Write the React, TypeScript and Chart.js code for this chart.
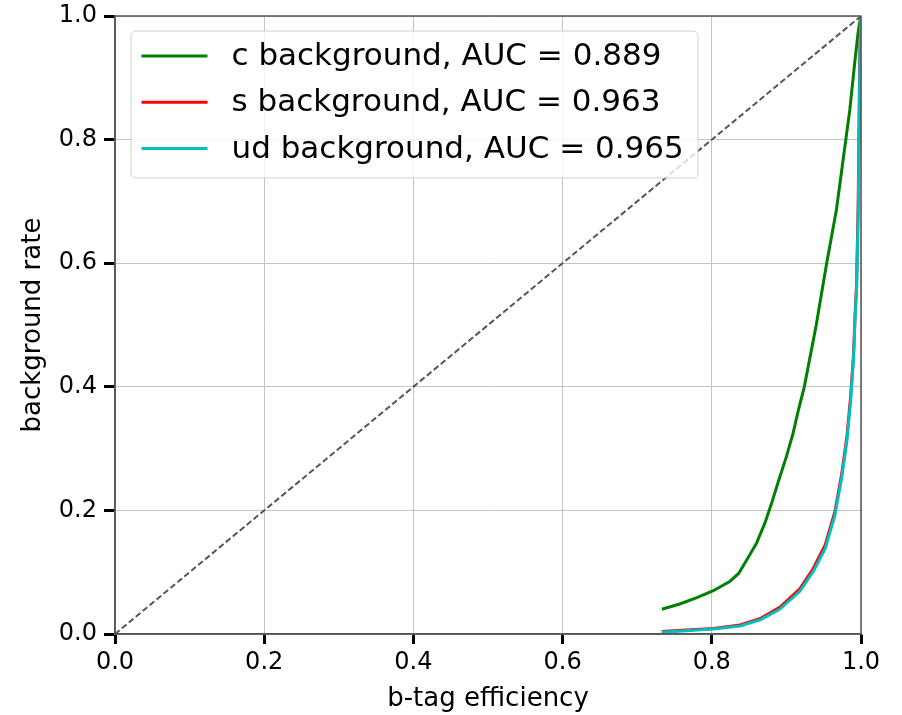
import { useEffect, useRef } from 'react';
import { Chart, registerables } from 'chart.js';

Chart.register(...registerables);

// ---- data ----
const axisTicks = [0, 0.2, 0.4, 0.6, 0.8, 1.0];

const cEff = [0.733, 0.757, 0.780, 0.802, 0.824, 0.836, 0.847, 0.860, 0.871, 0.880, 0.889, 0.900, 0.909, 0.916, 0.924, 0.932, 0.940, 0.947, 0.954, 0.967, 0.979, 0.985, 0.992, 0.996, 0.999, 1.0];
const cRate = [0.040, 0.0485, 0.059, 0.070, 0.085, 0.098, 0.120, 0.147, 0.179, 0.211, 0.246, 0.287, 0.325, 0.362, 0.400, 0.450, 0.500, 0.550, 0.600, 0.686, 0.794, 0.848, 0.929, 0.972, 0.995, 1.0];

const sEff = [0.733, 0.760, 0.802, 0.838, 0.865, 0.891, 0.918, 0.936, 0.952, 0.965, 0.974, 0.981, 0.986, 0.990, 0.992, 0.9940, 0.9962, 0.9985, 1.0];
const sRate = [0.004, 0.006, 0.009, 0.0146, 0.025, 0.043, 0.073, 0.106, 0.144, 0.198, 0.258, 0.318, 0.383, 0.452, 0.515, 0.565, 0.695, 0.950, 1.0];

const udEff = [0.733, 0.760, 0.802, 0.838, 0.865, 0.891, 0.918, 0.936, 0.952, 0.965, 0.974, 0.981, 0.986, 0.990, 0.992, 0.9942, 0.9964, 0.9987, 1.0];
const udRate = [0.003, 0.005, 0.008, 0.013, 0.023, 0.040, 0.069, 0.101, 0.138, 0.192, 0.252, 0.311, 0.376, 0.446, 0.510, 0.560, 0.690, 0.950, 1.0];

const diagEff = [0, 1];
const diagRate = [0, 1];

const seriesLabels = [
  'c background, AUC = 0.889',
  's background, AUC = 0.963',
  'ud background, AUC = 0.965',
];
const seriesColors = ['#008000', '#ff0000', '#00bfbf'];

const xTitle = 'b-tag efficiency';
const yTitle = 'background rate';

const toPoints = (xs: number[], ys: number[]) => xs.map((x, i) => ({ x, y: ys[i] }));

export default function App() {
  const ref = useRef<HTMLCanvasElement>(null);

  useEffect(() => {
    document.body.style.margin = '0';
    const FONT = "'DejaVu Sans', sans-serif";

    const framePlugin = {
      id: 'frame',
      afterDatasetsDraw(chart: any) {
        const { ctx, chartArea: a } = chart;
        ctx.save();
        ctx.strokeStyle = '#555555';
        ctx.lineWidth = 1.5;
        ctx.strokeRect(a.left, a.top, a.right - a.left, a.bottom - a.top);
        ctx.restore();
      },
    };

    const legendPlugin = {
      id: 'boxLegend',
      afterDraw(chart: any) {
        const { ctx, chartArea: a } = chart;
        const left = a.left + 16;
        const top = a.top + 15;
        const w = 567;
        const h = 147;
        ctx.save();
        ctx.beginPath();
        if (ctx.roundRect) ctx.roundRect(left, top, w, h, 5);
        else ctx.rect(left, top, w, h);
        ctx.fillStyle = 'rgba(255,255,255,0.8)';
        ctx.fill();
        ctx.strokeStyle = 'rgba(204,204,204,0.9)';
        ctx.lineWidth = 1;
        ctx.stroke();
        ctx.font = `31px ${FONT}`;
        ctx.textBaseline = 'middle';
        ctx.textAlign = 'left';
        seriesLabels.forEach((label, i) => {
          const cy = top + 25 + i * 46.3;
          ctx.strokeStyle = seriesColors[i];
          ctx.lineWidth = 3;
          ctx.beginPath();
          ctx.moveTo(left + 10.5, cy);
          ctx.lineTo(left + 76.5, cy);
          ctx.stroke();
          ctx.fillStyle = '#000';
          ctx.fillText(label, left + 100.5, cy + 1);
        });
        ctx.restore();
      },
    };

    const tickFmt = (v: any) => Number(v).toFixed(1);

    const chart = new Chart(ref.current!, {
      type: 'scatter',
      data: {
        datasets: [
          {
            label: 'diag',
            data: toPoints(diagEff, diagRate),
            showLine: true,
            borderColor: '#555555',
            borderWidth: 2,
            borderDash: [6, 3],
            pointRadius: 0,
            order: 0,
          },
          {
            label: seriesLabels[0],
            data: toPoints(cEff, cRate),
            showLine: true,
            borderColor: seriesColors[0],
            borderWidth: 3,
            pointRadius: 0,
            order: 3,
          },
          {
            label: seriesLabels[1],
            data: toPoints(sEff, sRate),
            showLine: true,
            borderColor: seriesColors[1],
            borderWidth: 3,
            pointRadius: 0,
            order: 2,
          },
          {
            label: seriesLabels[2],
            data: toPoints(udEff, udRate),
            showLine: true,
            borderColor: seriesColors[2],
            borderWidth: 3,
            pointRadius: 0,
            order: 1,
          },
        ],
      },
      options: {
        responsive: false,
        animation: false,
        events: [],
        layout: { padding: { top: 16, right: 41, left: 0, bottom: 0 } },
        plugins: {
          legend: { display: false },
          tooltip: { enabled: false },
        },
        scales: {
          x: {
            type: 'linear',
            min: 0,
            max: 1,
            afterBuildTicks: (s: any) => { s.ticks = axisTicks.map((v) => ({ value: v })); },
            afterFit: (s: any) => { s.height = 81; s.paddingLeft = 0; s.paddingRight = 0; },
            ticks: {
              callback: tickFmt,
              color: '#000',
              font: { family: FONT, size: 24 },
              padding: 4,
              maxRotation: 0,
            },
            grid: {
              color: '#c4c4c4',
              lineWidth: 1,
              tickColor: '#000',
              tickWidth: 3,
              tickLength: 10,
            },
            border: { display: true, color: '#555555', width: 1.5 },
            title: {
              display: true,
              text: xTitle,
              color: '#000',
              font: { family: FONT, size: 26 },
              padding: { top: 0, bottom: 0 },
            },
          },
          y: {
            type: 'linear',
            min: 0,
            max: 1,
            afterBuildTicks: (s: any) => { s.ticks = axisTicks.map((v) => ({ value: v })); },
            afterFit: (s: any) => { s.width = 115; s.paddingTop = 0; s.paddingBottom = 0; },
            ticks: {
              callback: tickFmt,
              color: '#000',
              font: { family: FONT, size: 24 },
              padding: 7,
            },
            grid: {
              color: '#c4c4c4',
              lineWidth: 1,
              tickColor: '#000',
              tickWidth: 3,
              tickLength: 11,
            },
            border: { display: true, color: '#555555', width: 1.5 },
            title: {
              display: true,
              text: yTitle,
              color: '#000',
              font: { family: FONT, size: 26 },
              padding: { top: 18, bottom: 0 },
            },
          },
        },
      },
      plugins: [framePlugin, legendPlugin],
    } as any);

    return () => chart.destroy();
  }, []);

  return (
    <div style={{ width: 902, height: 715 }}>
      <canvas ref={ref} width={902} height={715} style={{ display: 'block' }} />
    </div>
  );
}
